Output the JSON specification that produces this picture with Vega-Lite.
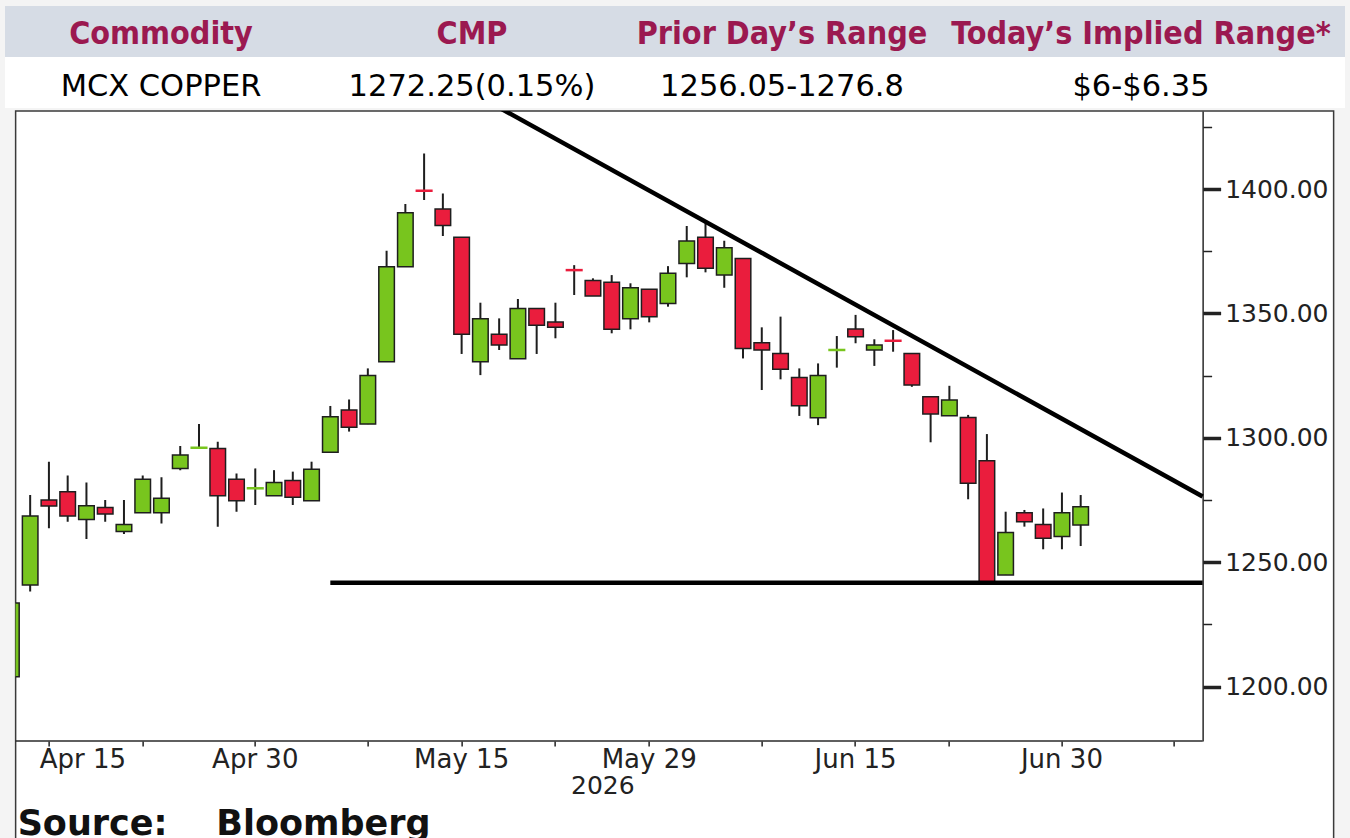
{
  "$schema": "https://vega.github.io/schema/vega-lite/v6.json",
  "background": "#f4f4f4",
  "padding": {"left": 5, "top": 6, "right": 5, "bottom": 0},
  "config": {
    "view": {"stroke": null},
    "axis": {"labelFont": "DejaVu Sans", "titleFont": "DejaVu Sans", "labelColor": "#222", "titleColor": "#222", "tickColor": "#222", "domainColor": "#2a2a2a"}
  },
  "datasets": {
    "table": [
      {"column": "Commodity", "header": "Commodity", "value": "MCX COPPER"},
      {"column": "CMP", "header": "CMP", "value": "1272.25(0.15%)"},
      {"column": "Prior", "header": "Prior Day\u2019s Range", "value": "1256.05-1276.8"},
      {"column": "Implied", "header": "Today\u2019s Implied Range*", "value": "$6-$6.35"}
    ],
    "candles": [
      {"date": "2026-04-13", "open": 1204.0, "high": 1236.0, "low": 1200.0, "close": 1233.6},
      {"date": "2026-04-14", "open": 1240.8, "high": 1277.0, "low": 1238.2, "close": 1268.6},
      {"date": "2026-04-15", "open": 1275.0, "high": 1290.4, "low": 1263.6, "close": 1272.6},
      {"date": "2026-04-16", "open": 1278.3, "high": 1284.8, "low": 1266.3, "close": 1268.6},
      {"date": "2026-04-17", "open": 1267.2, "high": 1282.0, "low": 1259.3, "close": 1272.7},
      {"date": "2026-04-20", "open": 1272.0, "high": 1275.0, "low": 1266.3, "close": 1269.4},
      {"date": "2026-04-21", "open": 1262.3, "high": 1275.0, "low": 1261.3, "close": 1265.2},
      {"date": "2026-04-22", "open": 1269.9, "high": 1284.8, "low": 1269.9, "close": 1283.3},
      {"date": "2026-04-23", "open": 1269.9, "high": 1284.1, "low": 1265.6, "close": 1275.7},
      {"date": "2026-04-24", "open": 1287.7, "high": 1296.7, "low": 1287.0, "close": 1293.1},
      {"date": "2026-04-27", "open": 1295.8, "high": 1305.5, "low": 1295.8, "close": 1296.2},
      {"date": "2026-04-28", "open": 1295.7, "high": 1298.4, "low": 1264.3, "close": 1276.7},
      {"date": "2026-04-29", "open": 1283.3, "high": 1285.7, "low": 1270.3, "close": 1274.7},
      {"date": "2026-04-30", "open": 1279.5, "high": 1287.7, "low": 1273.0, "close": 1279.9},
      {"date": "2026-05-01", "open": 1276.7, "high": 1287.0, "low": 1276.7, "close": 1282.0},
      {"date": "2026-05-04", "open": 1282.8, "high": 1286.4, "low": 1273.0, "close": 1276.1},
      {"date": "2026-05-05", "open": 1274.7, "high": 1290.4, "low": 1274.7, "close": 1287.4},
      {"date": "2026-05-06", "open": 1294.2, "high": 1312.8, "low": 1294.2, "close": 1308.5},
      {"date": "2026-05-07", "open": 1311.2, "high": 1315.4, "low": 1302.5, "close": 1304.2},
      {"date": "2026-05-08", "open": 1305.5, "high": 1327.9, "low": 1305.5, "close": 1325.0},
      {"date": "2026-05-11", "open": 1330.6, "high": 1375.2, "low": 1330.6, "close": 1368.8},
      {"date": "2026-05-12", "open": 1368.8, "high": 1394.0, "low": 1368.8, "close": 1390.5},
      {"date": "2026-05-13", "open": 1399.5, "high": 1414.3, "low": 1395.6, "close": 1399.1},
      {"date": "2026-05-14", "open": 1392.0, "high": 1398.2, "low": 1381.1, "close": 1385.3},
      {"date": "2026-05-15", "open": 1380.6, "high": 1380.6, "low": 1333.7, "close": 1341.6},
      {"date": "2026-05-18", "open": 1330.6, "high": 1354.3, "low": 1325.2, "close": 1347.9},
      {"date": "2026-05-19", "open": 1341.6, "high": 1348.0, "low": 1335.3, "close": 1337.3},
      {"date": "2026-05-20", "open": 1331.8, "high": 1355.8, "low": 1331.8, "close": 1352.0},
      {"date": "2026-05-21", "open": 1352.0, "high": 1352.0, "low": 1333.7, "close": 1345.2},
      {"date": "2026-05-22", "open": 1346.5, "high": 1354.3, "low": 1340.0, "close": 1344.4},
      {"date": "2026-05-25", "open": 1367.6, "high": 1369.4, "low": 1357.4, "close": 1367.2},
      {"date": "2026-05-26", "open": 1363.2, "high": 1364.1, "low": 1357.0, "close": 1357.0},
      {"date": "2026-05-27", "open": 1362.5, "high": 1365.4, "low": 1342.0, "close": 1343.6},
      {"date": "2026-05-28", "open": 1347.9, "high": 1362.1, "low": 1343.6, "close": 1360.3},
      {"date": "2026-05-29", "open": 1359.7, "high": 1359.7, "low": 1346.4, "close": 1348.7},
      {"date": "2026-06-01", "open": 1354.0, "high": 1369.0, "low": 1352.7, "close": 1366.1},
      {"date": "2026-06-02", "open": 1370.1, "high": 1385.1, "low": 1364.5, "close": 1379.1},
      {"date": "2026-06-03", "open": 1380.6, "high": 1386.2, "low": 1366.5, "close": 1368.1},
      {"date": "2026-06-04", "open": 1365.4, "high": 1379.2, "low": 1360.3, "close": 1376.4},
      {"date": "2026-06-05", "open": 1372.1, "high": 1372.1, "low": 1331.9, "close": 1335.9},
      {"date": "2026-06-08", "open": 1338.2, "high": 1344.4, "low": 1319.2, "close": 1335.3},
      {"date": "2026-06-09", "open": 1333.9, "high": 1348.7, "low": 1323.5, "close": 1327.6},
      {"date": "2026-06-10", "open": 1324.2, "high": 1327.9, "low": 1308.8, "close": 1312.9},
      {"date": "2026-06-11", "open": 1308.1, "high": 1329.9, "low": 1305.1, "close": 1325.0},
      {"date": "2026-06-12", "open": 1335.1, "high": 1340.9, "low": 1328.2, "close": 1335.5},
      {"date": "2026-06-15", "open": 1343.7, "high": 1349.4, "low": 1338.0, "close": 1340.6},
      {"date": "2026-06-16", "open": 1335.3, "high": 1339.6, "low": 1328.9, "close": 1337.3},
      {"date": "2026-06-17", "open": 1339.2, "high": 1343.3, "low": 1334.6, "close": 1338.8},
      {"date": "2026-06-18", "open": 1333.9, "high": 1333.9, "low": 1320.5, "close": 1321.2},
      {"date": "2026-06-19", "open": 1316.5, "high": 1316.5, "low": 1298.2, "close": 1309.6},
      {"date": "2026-06-22", "open": 1308.9, "high": 1320.9, "low": 1308.9, "close": 1315.2},
      {"date": "2026-06-23", "open": 1308.2, "high": 1309.2, "low": 1275.3, "close": 1281.7},
      {"date": "2026-06-24", "open": 1290.8, "high": 1301.5, "low": 1241.6, "close": 1241.8},
      {"date": "2026-06-25", "open": 1244.9, "high": 1270.3, "low": 1244.9, "close": 1261.9},
      {"date": "2026-06-26", "open": 1269.9, "high": 1271.0, "low": 1264.3, "close": 1266.3},
      {"date": "2026-06-29", "open": 1265.2, "high": 1271.6, "low": 1255.2, "close": 1259.6},
      {"date": "2026-06-30", "open": 1260.3, "high": 1278.0, "low": 1255.2, "close": 1269.9},
      {"date": "2026-07-01", "open": 1265.0, "high": 1277.0, "low": 1256.5, "close": 1272.25}
    ],
    "trendlines": [
      {"line": "resistance", "date": "2026-05-19", "end": "2026-07-09", "from": 1432.7, "to": 1276.4},
      {"line": "support", "date": "2026-05-06", "end": "2026-07-09", "from": 1241.7, "to": 1241.7}
    ]
  },
  "center": true,
  "spacing": 2,
  "vconcat": [
    {
      "spacing": 0,
      "vconcat": [
        {
          "bounds": "flush",
          "spacing": 0,
          "hconcat": [
            {"width": 312, "height": 51, "view": {"fill": "#d6dce5", "stroke": null}, "data": {"name": "table"}, "transform": [{"filter": "datum.column === 'Commodity'"}], "mark": {"type": "text", "font": "DejaVu Sans Condensed", "fontWeight": "bold", "fontSize": 32, "color": "#9b1950", "baseline": "middle", "align": "center", "dy": 2}, "encoding": {"text": {"field": "header"}}},
            {"width": 310, "height": 51, "view": {"fill": "#d6dce5", "stroke": null}, "data": {"name": "table"}, "transform": [{"filter": "datum.column === 'CMP'"}], "mark": {"type": "text", "font": "DejaVu Sans Condensed", "fontWeight": "bold", "fontSize": 32, "color": "#9b1950", "baseline": "middle", "align": "center", "dy": 2}, "encoding": {"text": {"field": "header"}}},
            {"width": 310, "height": 51, "view": {"fill": "#d6dce5", "stroke": null}, "data": {"name": "table"}, "transform": [{"filter": "datum.column === 'Prior'"}], "mark": {"type": "text", "font": "DejaVu Sans Condensed", "fontWeight": "bold", "fontSize": 32, "color": "#9b1950", "baseline": "middle", "align": "center", "dy": 2}, "encoding": {"text": {"field": "header"}}},
            {"width": 408, "height": 51, "view": {"fill": "#d6dce5", "stroke": null}, "data": {"name": "table"}, "transform": [{"filter": "datum.column === 'Implied'"}], "mark": {"type": "text", "font": "DejaVu Sans Condensed", "fontWeight": "bold", "fontSize": 32, "color": "#9b1950", "baseline": "middle", "align": "center", "dy": 2}, "encoding": {"text": {"field": "header"}}}
          ]
        },
        {
          "bounds": "flush",
          "spacing": 0,
          "hconcat": [
            {"width": 312, "height": 51, "view": {"fill": "#ffffff", "stroke": null}, "data": {"name": "table"}, "transform": [{"filter": "datum.column === 'Commodity'"}], "mark": {"type": "text", "font": "DejaVu Sans", "fontSize": 30.5, "color": "#000000", "baseline": "middle", "align": "center", "dy": 4}, "encoding": {"text": {"field": "value"}}},
            {"width": 310, "height": 51, "view": {"fill": "#ffffff", "stroke": null}, "data": {"name": "table"}, "transform": [{"filter": "datum.column === 'CMP'"}], "mark": {"type": "text", "font": "DejaVu Sans", "fontSize": 30.5, "color": "#000000", "baseline": "middle", "align": "center", "dy": 4}, "encoding": {"text": {"field": "value"}}},
            {"width": 310, "height": 51, "view": {"fill": "#ffffff", "stroke": null}, "data": {"name": "table"}, "transform": [{"filter": "datum.column === 'Prior'"}], "mark": {"type": "text", "font": "DejaVu Sans", "fontSize": 30.5, "color": "#000000", "baseline": "middle", "align": "center", "dy": 4}, "encoding": {"text": {"field": "value"}}},
            {"width": 408, "height": 51, "view": {"fill": "#ffffff", "stroke": null}, "data": {"name": "table"}, "transform": [{"filter": "datum.column === 'Implied'"}], "mark": {"type": "text", "font": "DejaVu Sans", "fontSize": 30.5, "color": "#000000", "baseline": "middle", "align": "center", "dy": 4}, "encoding": {"text": {"field": "value"}}}
          ]
        }
      ]
    },
    {
      "width": 1318,
      "height": 740,
      "view": {"fill": "#ffffff", "stroke": "#3a3a3a", "strokeWidth": 1.5},
      "title": {"text": "Source:\u00a0\u00a0\u00a0\u00a0Bloomberg", "orient": "bottom", "anchor": "start", "frame": "group", "font": "DejaVu Sans", "fontSize": 35, "fontWeight": "bold", "color": "#111111", "offset": -44, "dx": 2},
      "encoding": {
        "x": {
          "field": "date",
          "type": "ordinal",
          "scale": {
            "type": "band",
            "paddingInner": 0,
            "paddingOuter": 0,
            "range": [-13.6, 1187],
            "domain": ["2026-04-13","2026-04-14","2026-04-15","2026-04-16","2026-04-17","2026-04-20","2026-04-21","2026-04-22","2026-04-23","2026-04-24","2026-04-27","2026-04-28","2026-04-29","2026-04-30","2026-05-01","2026-05-04","2026-05-05","2026-05-06","2026-05-07","2026-05-08","2026-05-11","2026-05-12","2026-05-13","2026-05-14","2026-05-15","2026-05-18","2026-05-19","2026-05-20","2026-05-21","2026-05-22","2026-05-25","2026-05-26","2026-05-27","2026-05-28","2026-05-29","2026-06-01","2026-06-02","2026-06-03","2026-06-04","2026-06-05","2026-06-08","2026-06-09","2026-06-10","2026-06-11","2026-06-12","2026-06-15","2026-06-16","2026-06-17","2026-06-18","2026-06-19","2026-06-22","2026-06-23","2026-06-24","2026-06-25","2026-06-26","2026-06-29","2026-06-30","2026-07-01","2026-07-02","2026-07-03","2026-07-06","2026-07-07","2026-07-08","2026-07-09"]
          },
          "axis": {
            "orient": "bottom",
            "offset": -110,
            "domain": false,
            "grid": false,
            "values": ["2026-04-15","2026-04-22","2026-04-30","2026-05-08","2026-05-15","2026-05-22","2026-05-29","2026-06-08","2026-06-15","2026-06-22","2026-06-30","2026-07-08"],
            "labelExpr": "indexof(['2026-04-15','2026-04-30','2026-05-15','2026-05-29','2026-06-15','2026-06-30'], datum.value) >= 0 ? utcFormat(toDate(datum.value), '%b %d') : ''",
            "labelOffset": {"condition": {"test": "datum.value === '2026-04-15'", "value": 34}, "value": 0},
            "labelAngle": 0,
            "labelFontSize": 26,
            "labelPadding": 0,
            "tickSize": 5,
            "tickWidth": 1.5,
            "title": "2026",
            "titleFontSize": 25,
            "titleFontWeight": "normal",
            "titlePadding": 1
          }
        }
      },
      "layer": [
        {
          "data": {"values": [{}]},
          "mark": {"type": "rule", "clip": true, "color": "#2a2a2a", "strokeWidth": 1.5},
          "encoding": {
            "x": {"datum": "2026-04-13", "type": "ordinal", "bandPosition": 0},
            "x2": {"datum": "2026-07-09", "bandPosition": 1},
            "y": {"datum": 1178.14, "type": "quantitative", "scale": {"domain": [1178.14, 1431.35], "range": [630, 0], "nice": false, "zero": false}, "axis": {"title": null}}
          }
        },
        {
          "data": {"name": "candles"},
          "mark": {"type": "rule", "clip": true, "color": "#1e1e1e", "strokeWidth": 2},
          "encoding": {
            "y": {
              "field": "low",
              "type": "quantitative",
              "scale": {"domain": [1178.14, 1431.35], "range": [630, 0], "nice": false, "zero": false},
              "axis": {
                "orient": "right",
                "offset": -131,
                "domain": true,
                "domainWidth": 1.5,
                "grid": false,
                "values": [1200, 1225, 1250, 1275, 1300, 1325, 1350, 1375, 1400, 1425],
                "labelExpr": "datum.value % 50 === 0 ? format(datum.value, '.2f') : ''",
                "tickSize": {"condition": {"test": "datum.value % 50 === 0", "value": 18}, "value": 9},
                "tickWidth": {"condition": {"test": "datum.value % 50 === 0", "value": 3.5}, "value": 1.5},
                "labelFontSize": 25,
                "labelPadding": 4,
                "title": null
              }
            },
            "y2": {"field": "high"}
          }
        },
        {
          "data": {"name": "candles"},
          "mark": {"type": "bar", "clip": true, "width": {"band": 0.83}, "strokeWidth": 1.5},
          "encoding": {
            "y": {"field": "open", "type": "quantitative", "scale": {"domain": [1178.14, 1431.35], "range": [630, 0], "nice": false, "zero": false}, "axis": {"title": null}},
            "y2": {"field": "close"},
            "fill": {"condition": {"test": "datum.close >= datum.open", "value": "#78c51e"}, "value": "#ea1d3d"},
            "stroke": {"condition": [{"test": "abs(datum.close - datum.open) < 1 && datum.close >= datum.open", "value": "#78c51e"}, {"test": "abs(datum.close - datum.open) < 1", "value": "#ea1d3d"}], "value": "#1e1e1e"}
          }
        },
        {
          "data": {"name": "trendlines"},
          "mark": {"type": "rule", "clip": true, "color": "#000000", "strokeWidth": 4.5},
          "encoding": {
            "x2": {"field": "end", "bandPosition": 1},
            "y": {"field": "from", "type": "quantitative", "scale": {"domain": [1178.14, 1431.35], "range": [630, 0], "nice": false, "zero": false}, "axis": {"title": null}},
            "y2": {"field": "to"}
          }
        }
      ]
    }
  ]
}
